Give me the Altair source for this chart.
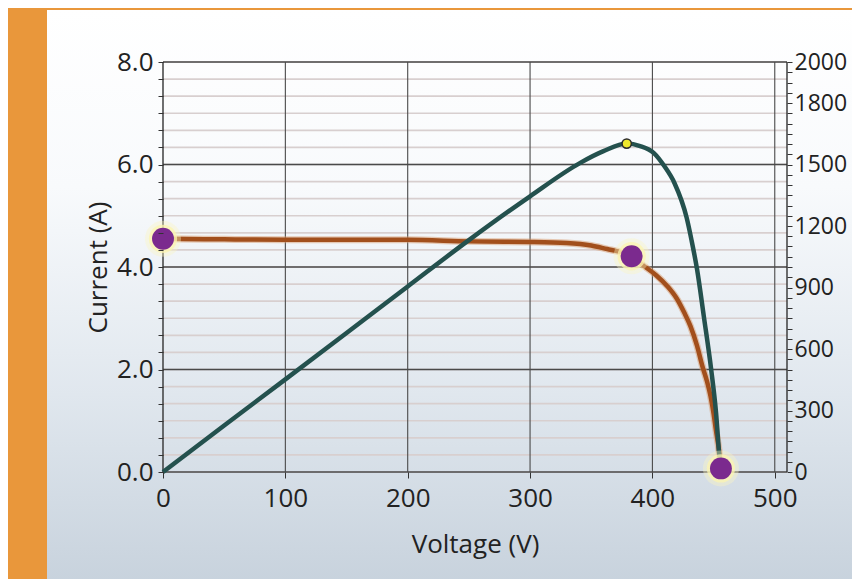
import altair as alt
import pandas as pd

# ---------------- data ----------------
# I-V curve (current, A)
iv_voltage = [0, 50, 100, 150, 200, 250, 300, 330, 350, 363, 374, 382, 393, 403,
              412, 420, 426, 431, 436.5, 441, 444.7, 448, 450, 452, 454.3, 456]
iv_current = [4.55, 4.54, 4.53, 4.53, 4.53, 4.50, 4.49, 4.47, 4.42, 4.35, 4.29, 4.21,
              4.02, 3.84, 3.63, 3.38, 3.11, 2.85, 2.46, 2.05, 1.76, 1.42, 1.14, 0.80,
              0.44, 0.07]
# P-V curve (power, W)
pv_voltage = [0, 50, 100, 150, 200, 250, 300, 341, 360, 379, 390, 401, 410, 418,
              428, 432, 436.5, 442, 448, 452, 454.5, 456]
pv_power = [0, 227, 452, 678, 905, 1131, 1345, 1508, 1565, 1602, 1590, 1557, 1490,
            1410, 1240, 1130, 988, 760, 501, 289, 94, 10]
# key points on the I-V curve (Isc, MPP, Voc)
key_voltage = [0, 383, 456]
key_current = [4.55, 4.21, 0.07]
# maximum power point on the P-V curve
mpp_voltage = [379]
mpp_power = [1602]

# axes / grid
x_grid = [100, 200, 300, 400, 500]
x_ticks = [0, 100, 200, 300, 400, 500]
x_edges = [0, 510]
current_major = [0, 2, 4, 6, 8]
current_minor = [i / 3 for i in range(25)]
power_labels = [0, 300, 600, 900, 1200, 1500, 1800, 2000]
power_ticks = list(range(0, 2001, 50))

FONT = "Open Sans"
TEAL = "#24514e"
BROWN = "#a24f1c"
PURPLE = "#7b2a8e"
TXT = "#222222"

xs = alt.Scale(domain=[0, 510], nice=False)
ys_i = alt.Scale(domain=[0, 8], nice=False)
ys_p = alt.Scale(domain=[0, 2000], nice=False)

iv_df = pd.DataFrame({"V": iv_voltage, "I": iv_current})
pv_df = pd.DataFrame({"V": pv_voltage, "P": pv_power})
key_df = pd.DataFrame({"V": key_voltage, "I": key_current})
mpp_df = pd.DataFrame({"V": mpp_voltage, "P": mpp_power})

common = dict(
    grid=False, domain=False, tickColor="#333333", labelOverlap=False, zindex=2,
    labelFont=FONT, labelColor=TXT,
    titleFont=FONT, titleFontSize=26, titleColor=TXT, titleFontWeight="normal",
)
left_axis = alt.Axis(
    title="Current (A)", orient="left", values=current_minor,
    labelExpr="indexof([0,2,4,6,8], datum.value) >= 0 ? format(datum.value, '.1f') : ''",
    tickSize=5, labelPadding=5, titlePadding=5, labelFontSize=26, **common,
)
bottom_axis = alt.Axis(
    title="Voltage (V)", orient="bottom", values=x_ticks, format="d",
    tickSize=6, labelPadding=7, titlePadding=20, labelFlush=False, labelFontSize=26,
    **common,
)
right_axis = alt.Axis(
    title=None, orient="right", values=power_ticks,
    labelExpr="indexof(" + str(power_labels) + ", datum.value) >= 0 ? format(datum.value, 'd') : ''",
    tickSize=5, labelPadding=2, labelFontSize=23, **common,
)


def X(field):
    return alt.X(field, scale=xs, axis=bottom_axis)


def YI(field, axis=left_axis):
    return alt.Y(field, scale=ys_i, axis=axis)


def YP(field):
    return alt.Y(field, scale=ys_p, axis=right_axis)


gradient = alt.LinearGradient(
    gradient="linear",
    stops=[
        alt.GradientStop(offset=0, color="#ffffff"),
        alt.GradientStop(offset=0.3, color="#f8fafc"),
        alt.GradientStop(offset=0.65, color="#e0e7ee"),
        alt.GradientStop(offset=1, color="#c5d0db"),
    ],
    x1=0, x2=0, y1=0, y2=1,
)

bg = alt.Chart(pd.DataFrame({"a": [0]})).mark_rect(fill=gradient, clip=False).encode(
    x=alt.value(-116), x2=alt.value(720), y=alt.value(-52), y2=alt.value(540)
)

minor_grid = alt.Chart(pd.DataFrame({"v": current_minor})).mark_rule(
    color="#d8cfcf", strokeWidth=1.6
).encode(y=YI("v:Q"))

major_grid = alt.Chart(pd.DataFrame({"v": current_major})).mark_rule(
    color="#4a4a4a", strokeWidth=1.3
).encode(y=YI("v:Q"))

vert_grid = alt.Chart(pd.DataFrame({"v": x_grid})).mark_rule(
    color="#4a4a4a", strokeWidth=1.1
).encode(x=X("v:Q"))

edges = alt.Chart(pd.DataFrame({"v": x_edges})).mark_rule(
    color="#333333", strokeWidth=1.4
).encode(x=X("v:Q"))

brown_glow = alt.Chart(iv_df).mark_line(
    color="#d89a6c", strokeWidth=7, opacity=0.5, interpolate="monotone"
).encode(x=X("V:Q"), y=YI("I:Q"))

brown_line = alt.Chart(iv_df).mark_line(
    color=BROWN, strokeWidth=4.5, interpolate="monotone"
).encode(x=X("V:Q"), y=YI("I:Q"))

current_base = alt.layer(bg, minor_grid, major_grid, vert_grid, edges, brown_glow, brown_line)

teal_line = alt.Chart(pv_df).mark_line(
    color=TEAL, strokeWidth=4.5, interpolate="monotone"
).encode(x=X("V:Q"), y=YP("P:Q"))

mpp = alt.Chart(mpp_df).mark_point(
    shape="circle", filled=True, fill="#efe82c", stroke="#2b2b2b", strokeWidth=1.5,
    size=85, opacity=1
).encode(x=X("V:Q"), y=YP("P:Q"))
power_layer = alt.layer(teal_line, mpp)

halo_outer = alt.Chart(key_df).mark_circle(color="#fbf6c4", opacity=0.4, size=1300).encode(
    x=X("V:Q"), y=YI("I:Q", None))
halo_inner = alt.Chart(key_df).mark_circle(color="#fcf4b0", opacity=0.75, size=800).encode(
    x=X("V:Q"), y=YI("I:Q", None))
purple = alt.Chart(key_df).mark_circle(color=PURPLE, opacity=1, size=480).encode(
    x=X("V:Q"), y=YI("I:Q", None))
current_markers = alt.layer(halo_outer, halo_inner, purple)

chart = alt.layer(current_base, power_layer, current_markers).resolve_scale(
    y="independent"
).properties(
    width=624, height=410,
    autosize=alt.AutoSizeParams(type="none"),
    padding={"left": 155, "top": 54, "right": 65, "bottom": 107},
    background="#e9973b",
).configure_view(stroke=None)

chart.save("out.html", embed_options={"renderer": "svg", "actions": False})
